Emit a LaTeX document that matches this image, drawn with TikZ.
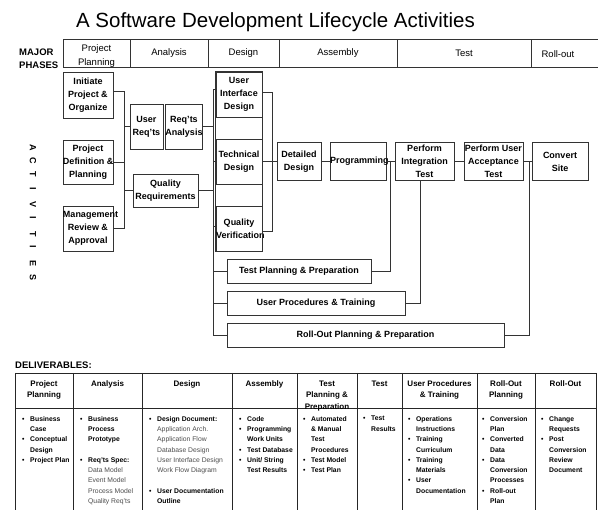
\documentclass[tikz,border=0pt]{standalone}
\usepackage{fontspec}
\setmainfont{Liberation Sans}
\newcommand\B{\makebox[8pt][l]{•}}
\newcommand\C{\hspace*{8pt}}
\newcommand\G[1]{{\mdseries\color{black!70}#1}}
\newcommand\ov[2]{\makebox[#1pt][l]{#2}}
\begin{document}
\begin{tikzpicture}[x=1pt,y=-1pt,
  ln/.style={draw=black!80, line width=0.9pt},
  act/.style={draw=black!80, line width=0.9pt, rectangle, inner sep=0pt, align=center,
    font=\bfseries\fontsize{9}{13}\selectfont},
  phase/.style={draw=black!80, line width=0.9pt, rectangle, inner sep=0pt, minimum height=28pt,
    align=center, font=\fontsize{9.5}{14}\selectfont},
  phtxt/.style={inner sep=0pt, align=center, font=\fontsize{9.5}{14}\selectfont},
  hd/.style={anchor=north, inner sep=0pt, align=center, font=\bfseries\fontsize{8}{11.5}\selectfont},
  body/.style={anchor=north west, inner sep=0pt, align=left, font=\bfseries\fontsize{6.8}{10.3}\selectfont},
  letter/.style={inner sep=0pt, rotate=-90, font=\bfseries\fontsize{9}{10}\selectfont}]
\useasboundingbox (0,0) rectangle (598,510);
\clip (0,0) rectangle (598,510);

% title
\node[anchor=base, inner sep=0pt, font=\fontsize{20.5}{24}\selectfont] (title) at (275.5,28)
  {A Software Development Lifecycle Activities};

% major phases
\node[anchor=west, inner sep=0pt, align=left, font=\bfseries\fontsize{9.5}{13}\selectfont] (mp) at (19,59) {MAJOR\\PHASES};
\node[phase, minimum width=67pt] (ph1) at (96.5,53) {};
\node[phtxt] (ph1t) at (96.5,56) {Project\\Planning};
\node[phase, minimum width=78pt] (ph2) at (169,53) {Analysis};
\node[phase, minimum width=71pt] (ph3) at (243.5,53) {Design};
\node[phase, minimum width=118pt] (ph4) at (338,53) {Assembly};
\node[phase, minimum width=134pt] (ph5) at (464,53) {Test};
\node[phase, minimum width=80pt] (ph6) at (571,53) {};
\node[phtxt] (ph6t) at (558,54) {Roll-out};

% ACTIVITIES
\node[letter] (l1) at (33,148) {A};
\node[letter] (l2) at (33,161) {C};
\node[letter] (l3) at (33,174) {T};
\node[letter] (l4) at (33,189) {I};
\node[letter] (l5) at (33,205) {V};
\node[letter] (l6) at (33,218) {I};
\node[letter] (l7) at (33,234) {T};
\node[letter] (l8) at (33,247) {I};
\node[letter] (l9) at (33,264) {E};
\node[letter] (l10) at (33,278) {S};

% activity boxes
\node[act, minimum width=50pt, minimum height=46pt] (init) at (88,95) {Initiate\\Project \&\\Organize};
\node[act, minimum width=50pt, minimum height=44pt] (pdp) at (88,162) {Project\\\ov{50}{Definition \&}\\Planning};
\node[act, minimum width=50pt, minimum height=45pt] (mgmt) at (88,228.5) {\ov{50}{Management}\\Review \&\\Approval};
\node[act, minimum width=33pt, minimum height=45pt] (ureq) at (146.5,126.5) {User\\Req'ts};
\node[act, minimum width=36pt, minimum height=45pt] (rana) at (184,126.5) {Req'ts\\Analysis};
\node[act, minimum width=65pt, minimum height=33pt] (qreq) at (165.5,190.5) {Quality\\Requirements};
\node[act, minimum width=46pt, minimum height=45pt] (ui) at (239,94.5) {User\\Interface\\Design};
\node[act, minimum width=46pt, minimum height=45pt] (td) at (239,161.5) {Technical\\Design};
\node[act, minimum width=46pt, minimum height=45pt] (qv) at (239,228.5) {Quality\\\ov{46}{Verification}};
\draw[ln] (ui.north west) rectangle (qv.south east);
\node[act, minimum width=44pt, minimum height=38pt] (dd) at (299,161.5) {Detailed\\Design};
\node[act, minimum width=56pt, minimum height=38pt] (prog) at (358,161.5) {\ov{56}{Programming}};
\node[act, minimum width=59pt, minimum height=38pt] (pit) at (424.5,161.5) {Perform\\Integration\\Test};
\node[act, minimum width=59pt, minimum height=38pt] (puat) at (493.5,161.5) {\makebox[0pt]{Perform User}\\Acceptance\\Test};
\node[act, minimum width=56pt, minimum height=38pt] (cs) at (560,161.5) {Convert\\Site};
\node[act, minimum width=144pt, minimum height=24pt] (tpp) at (299,271) {Test Planning \& Preparation};
\node[act, minimum width=178pt, minimum height=24pt] (upt) at (316,303) {User Procedures \& Training};
\node[act, minimum width=277pt, minimum height=24pt] (rop) at (365.5,335) {Roll-Out Planning \& Preparation};

% junction columns
\coordinate (jA) at (124,0);
\coordinate (jB) at (213,0);
\coordinate (jC) at (272,0);
\coordinate (jD) at (390,0);
\coordinate (jE) at (529,0);

% connectors
\draw[ln] ([yshift=4pt]init.east) -| (jA |- mgmt.east) -- (mgmt.east);
\draw[ln] (pdp.east) -- (pdp.east -| jA);
\draw[ln] (jA |- ureq.west) -- (ureq.west);
\draw[ln] (jA |- qreq.west) -- (qreq.west);

\draw[ln] ([yshift=5.5pt]ui.west) -- ([yshift=5.5pt]ui.west -| jB) |- (rop.west);
\draw[ln] (rana.east) -- (rana.east -| jB);
\draw[ln] (qreq.east) -- (qreq.east -| jB);
\draw[ln] (jB |- td.west) -- (td.west);
\draw[ln] ([yshift=2pt]qv.west) -- ([yshift=2pt]qv.west -| jB);
\draw[ln] (jB |- tpp.west) -- (tpp.west);
\draw[ln] (jB |- upt.west) -- (upt.west);

\draw[ln] ([yshift=2.5pt]ui.east) -| ([yshift=-2.5pt]qv.east -| jC) -- ([yshift=-2.5pt]qv.east);
\draw[ln] (td.east) -- (dd.west);
\draw[ln] (dd.east) -- (prog.west);
\draw[ln] (prog.east) -- (pit.west);
\draw[ln] (jD |- prog.east) |- (tpp.east);
\draw[ln] ([xshift=-4.5pt]pit.south) |- (upt.east);
\draw[ln] (pit.east) -- (puat.west);
\draw[ln] (puat.east) -- (cs.west);
\draw[ln] (jE |- cs.west) |- (rop.east);

% deliverables
\node[anchor=base west, inner sep=0pt, font=\bfseries\fontsize{9.5}{11}\selectfont] (dlv) at (15,369) {DELIVERABLES:};
\draw[ln, draw=black!85] (15,373) -- (596,373);
\draw[ln, draw=black!85] (15,408) -- (596,408);
\foreach \xx in {15,73,142,232,297,357,402,477,535,596}
  \draw[ln, draw=black!85] (\xx,373) -- (\xx,515);

\node[hd] (h1) at (44,380.5) {Project\\Planning};
\node[hd] (h2) at (107.5,380.5) {Analysis};
\node[hd] (h3) at (187,380.5) {Design};
\node[hd] (h4) at (264.5,380.5) {Assembly};
\node[hd] (h5) at (327,380.5) {Test\\Planning \&\\Preparation};
\node[hd] (h6) at (379.5,380.5) {Test};
\node[hd] (h7) at (439.5,380.5) {User Procedures\\\& Training};
\node[hd] (h8) at (506,380.5) {Roll-Out\\Planning};
\node[hd] (h9) at (565.5,380.5) {Roll-Out};

\node[body] (b1) at (22,416) {\B Business\\\C Case\\\B Conceptual\\\C Design\\\B Project Plan};
\node[body] (b2) at (80,416) {\B Business\\\C Process\\\C Prototype\\[10.3pt]\B Req'ts Spec:\\\C\G{Data Model}\\\C\G{Event Model}\\\C\G{Process Model}\\\C\G{Quality Req'ts}};
\node[body] (b3) at (149,416) {\B Design Document:\\\C\G{Application Arch.}\\\C\G{Application Flow}\\\C\G{Database Design}\\\C\G{User Interface Design}\\\C\G{Work Flow Diagram}\\[10.3pt]\B User Documentation\\\C Outline};
\node[body] (b4) at (239,416) {\B Code\\\B Programming\\\C Work Units\\\B Test Database\\\B Unit/ String\\\C Test Results};
\node[body] (b5) at (303,416) {\B Automated\\\C \& Manual\\\C Test\\\C Procedures\\\B Test Model\\\B Test Plan};
\node[body] (b6) at (363,416) {\B Test\\\C Results};
\node[body] (b7) at (408,416) {\B Operations\\\C Instructions\\\B Training\\\C Curriculum\\\B Training\\\C Materials\\\B User\\\C Documentation};
\node[body] (b8) at (482,416) {\B Conversion\\\C Plan\\\B Converted\\\C Data\\\B Data\\\C Conversion\\\C Processes\\\B Roll-out\\\C Plan};
\node[body] (b9) at (541,416) {\B Change\\\C Requests\\\B Post\\\C Conversion\\\C Review\\\C Document};
\end{tikzpicture}
\end{document}
